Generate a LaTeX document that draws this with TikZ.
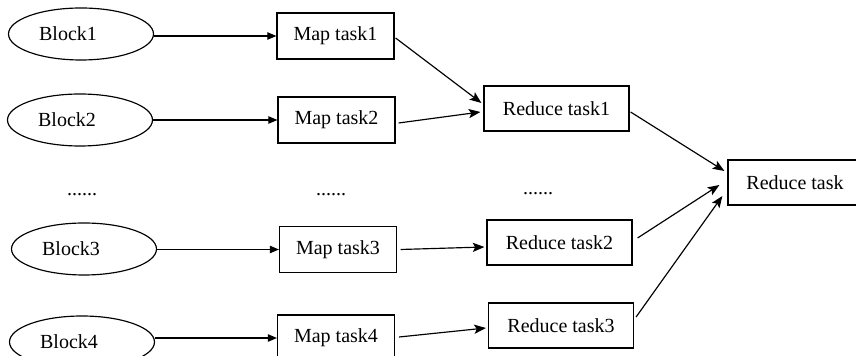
\documentclass[tikz,border=0pt]{standalone}
\usepackage{fontspec}
\setmainfont{Liberation Serif}
\usetikzlibrary{shapes.geometric,arrows.meta,calc}

\tikzset{
  blockshape/.style={draw, ellipse, line width=0.7pt, minimum width=87pt, minimum height=31.2pt, inner sep=0pt},
  blocklabel/.style={label={[xshift=-7.8pt]center:#1}},
  maptask/.style={draw, rectangle, line width=0.7pt, minimum width=70.2pt, minimum height=27.6pt, inner sep=0pt},
  redtask/.style={draw, rectangle, line width=0.7pt, minimum width=87pt, minimum height=27pt, inner sep=0pt},
  finaltask/.style={draw, rectangle, line width=0.7pt, minimum width=80.4pt, minimum height=27pt, inner sep=0pt},
  feed/.style={line width=0.7pt, -{Triangle[length=5.5pt,width=4.5pt]}},
  flow/.style={line width=0.7pt, -{Stealth[length=7pt,width=5.5pt,inset=1.5pt]}},
  ellipsis/.style={anchor=base, inner sep=0pt}
}

\begin{document}
\begin{tikzpicture}[x=0.6pt, y=-0.6pt, font=\fontsize{12}{14}\selectfont]
\useasboundingbox (0,0) rectangle (856,356);

% input blocks
\node[blockshape, blocklabel=Block1] (b1) at (81,34) {};
\node[blockshape, blocklabel=Block2] (b2) at (80,120) {};
\node[blockshape, blocklabel=Block3] (b3) at (84,249) {};
\node[blockshape, blocklabel=Block4] (b4) at (82,342) {};

% map tasks
\node[maptask] (m1) at (335.5,36) {Map task1};
\node[maptask] (m2) at (336.5,120) {Map task2};
\node[maptask] (m3) at (338,249.5) {Map task3};
\node[maptask] (m4) at (336,338) {Map task4};

% reduce tasks
\node[redtask] (r1) at (556.5,108.5) {Reduce task1};
\node[redtask] (r2) at (559.5,242.5) {Reduce task2};
\node[redtask] (r3) at (561,325.5) {Reduce task3};
\node[finaltask] (r) at (795,182.5) {Reduce task};

% elided rows
\node[ellipsis] (d1) at (82,196) {......};
\node[ellipsis] (d2) at (331,196) {......};
\node[ellipsis] (d3) at (538,195) {......};

% blocks feed map tasks
\draw[feed] (b1.east |- m1.west) -- (m1.west);
\draw[feed] (b2.east |- m2.west) -- (m2.west);
\draw[feed] (b3.east |- m3.west) -- (m3.west);
\draw[feed] (b4.east |- m4.west) -- (m4.west);

% map outputs to first-level reducers
\draw[flow] ($(m1.east)+(1,2)$) -- ($(r1.west)+(-2,-5.5)$);
\draw[flow] ($(m2.east)+(3,3)$) -- ($(r1.west)+(-3,3.5)$);
\draw[flow] ($(m3.east)+(3.5,0)$) -- ($(r2.west)+(-2,4.5)$);
\draw[flow] ($(m4.east)+(4,-1)$) -- ($(r3.west)+(-2,2.5)$);

% reducers to final reduce
\draw[flow] ($(r1.east)+(1,3.5)$) -- ($(r.west)+(-3,-11.5)$);
\draw[flow] ($(r2.east)+(5,-4.5)$) -- ($(r.west)+(-8,2.5)$);
\draw[flow] ($(r3.east)+(2,-8.5)$) -- ($(r.west)+(-5,13.5)$);
\end{tikzpicture}
\end{document}
